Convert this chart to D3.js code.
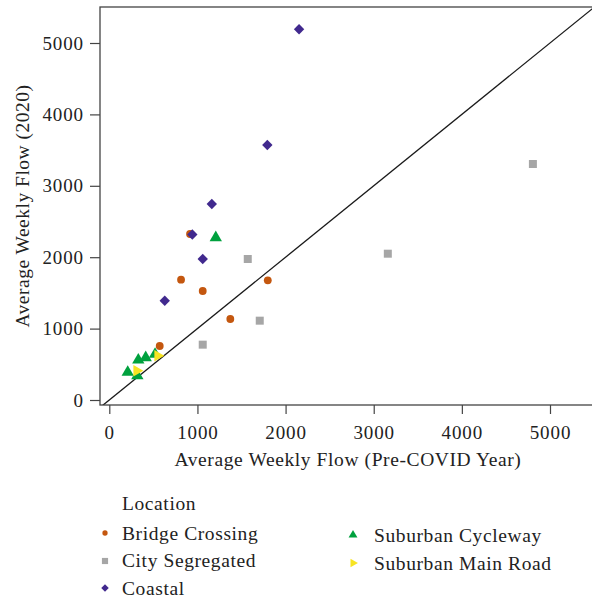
<!DOCTYPE html>
<html>
<head>
<meta charset="utf-8">
<script src="https://cdn.jsdelivr.net/npm/d3@7"></script>
<style>
  html, body { margin: 0; padding: 0; background: #fff; }
  svg { display: block; }
  text { font-family: "Liberation Serif", "Times New Roman", serif; fill: #222; }
</style>
</head>
<body>
<div id="chart"></div>
<script>
// ---- data ----
const categories = ["Bridge Crossing", "City Segregated", "Coastal", "Suburban Cycleway", "Suburban Main Road"];
const bridgePre   = [916, 814, 1060, 1798, 1373, 572];
const bridge2020  = [2325, 1685, 1527, 1676, 1134, 756];
const cityPre     = [1571, 1707, 1060, 3160, 4806];
const city2020    = [1975, 1111, 775, 2049, 3305];
const coastalPre  = [2153, 1793, 1163, 942, 1060, 629];
const coastal2020 = [5192, 3571, 2745, 2318, 1975, 1391];
const cyclePre    = [1208, 413, 329, 209, 318, 519];
const cycle2020   = [2273, 592, 560, 388, 340, 640];
const mainPre     = [549, 311];
const main2020    = [620, 410];
const xTicks = [0, 1000, 2000, 3000, 4000, 5000];
const yTicks = [0, 1000, 2000, 3000, 4000, 5000];

const seriesPre  = [bridgePre, cityPre, coastalPre, cyclePre, mainPre];
const series2020 = [bridge2020, city2020, coastal2020, cycle2020, main2020];

// ---- styles ----
const colors = ["#c4570f", "#a6a6a6", "#41298e", "#00a13e", "#f7e423"];
const W = 592, H = 603;
const panel = { left: 100, right: 600, top: 7, bottom: 405 };

const x = d3.scaleLinear().domain([0, 5000]).range([109.3, 550]);
const y = d3.scaleLinear().domain([0, 5000]).range([400, 43]);

const svg = d3.select("#chart").append("svg").attr("width", W).attr("height", H);

svg.append("defs").append("clipPath").attr("id", "clip")
  .append("rect").attr("x", panel.left).attr("y", panel.top)
  .attr("width", panel.right - panel.left).attr("height", panel.bottom - panel.top);

function symbolPath(i, legend) {
  const sizes = legend ? [22, 38, 28, 34, 32] : [48, 64, 54, 66, 58];
  const types = [d3.symbolCircle, d3.symbolSquare, d3.symbolSquare, d3.symbolTriangle, d3.symbolTriangle];
  return d3.symbol().type(types[i]).size(sizes[i])();
}
const rotations = [0, 0, 45, 0, 90];

// diagonal y = x
const diagDomain = [-500, 7000];
svg.append("line")
  .attr("clip-path", "url(#clip)")
  .attr("x1", x(diagDomain[0])).attr("y1", y(diagDomain[0]))
  .attr("x2", x(diagDomain[1])).attr("y2", y(diagDomain[1]))
  .attr("stroke", "#1a1a1a").attr("stroke-width", 1.3);

// points
const gPts = svg.append("g").attr("clip-path", "url(#clip)");
categories.forEach((c, i) => {
  seriesPre[i].forEach((v, j) => {
    gPts.append("path")
      .attr("d", symbolPath(i, false))
      .attr("transform", `translate(${x(v)},${y(series2020[i][j])}) rotate(${rotations[i]})`)
      .attr("fill", colors[i]);
  });
});

// panel border
svg.append("rect")
  .attr("x", panel.left).attr("y", panel.top)
  .attr("width", panel.right - panel.left).attr("height", panel.bottom - panel.top)
  .attr("fill", "none").attr("stroke", "#444").attr("stroke-width", 1.3);

// axes
const xAxis = svg.append("g").attr("transform", `translate(0,${panel.bottom})`)
  .call(d3.axisBottom(x).tickValues(xTicks).tickSize(9).tickPadding(12).tickFormat(d3.format("d")));
const yAxis = svg.append("g").attr("transform", `translate(${panel.left},0)`)
  .call(d3.axisLeft(y).tickValues(yTicks).tickSize(10).tickPadding(6).tickFormat(d3.format("d")));
[xAxis, yAxis].forEach(a => {
  a.select(".domain").remove();
  a.selectAll(".tick line").attr("stroke", "#444").attr("stroke-width", 1.2);
  a.selectAll(".tick text").attr("font-family", "Liberation Serif, serif")
    .attr("font-size", 19).attr("letter-spacing", 0.9).attr("fill", "#222");
});

// axis titles
svg.append("text").attr("x", 348).attr("y", 466).attr("text-anchor", "middle")
  .attr("font-size", 19.5).attr("letter-spacing", 0.6).text("Average Weekly Flow (Pre-COVID Year)");
svg.append("text").attr("transform", `translate(29,206) rotate(-90)`).attr("text-anchor", "middle")
  .attr("font-size", 19.5).attr("letter-spacing", 0.5).text("Average Weekly Flow (2020)");

// legend
const lg = svg.append("g");
lg.append("text").attr("x", 122).attr("y", 510).attr("font-size", 19.5).attr("letter-spacing", 0.6).text("Location");
const legendPos = [
  { sx: 105, sy: 533, tx: 122, ty: 540 },
  { sx: 105, sy: 561, tx: 122, ty: 567 },
  { sx: 105, sy: 588, tx: 122, ty: 595 },
  { sx: 353, sy: 535, tx: 374, ty: 542 },
  { sx: 353, sy: 563, tx: 374, ty: 570 }
];
categories.forEach((c, i) => {
  const p = legendPos[i];
  lg.append("path").attr("d", symbolPath(i, true))
    .attr("transform", `translate(${p.sx},${p.sy}) rotate(${rotations[i]})`)
    .attr("fill", colors[i]);
  lg.append("text").attr("x", p.tx).attr("y", p.ty).attr("font-size", 19.5)
    .attr("letter-spacing", 0.6).text(c);
});
</script>
</body>
</html>
